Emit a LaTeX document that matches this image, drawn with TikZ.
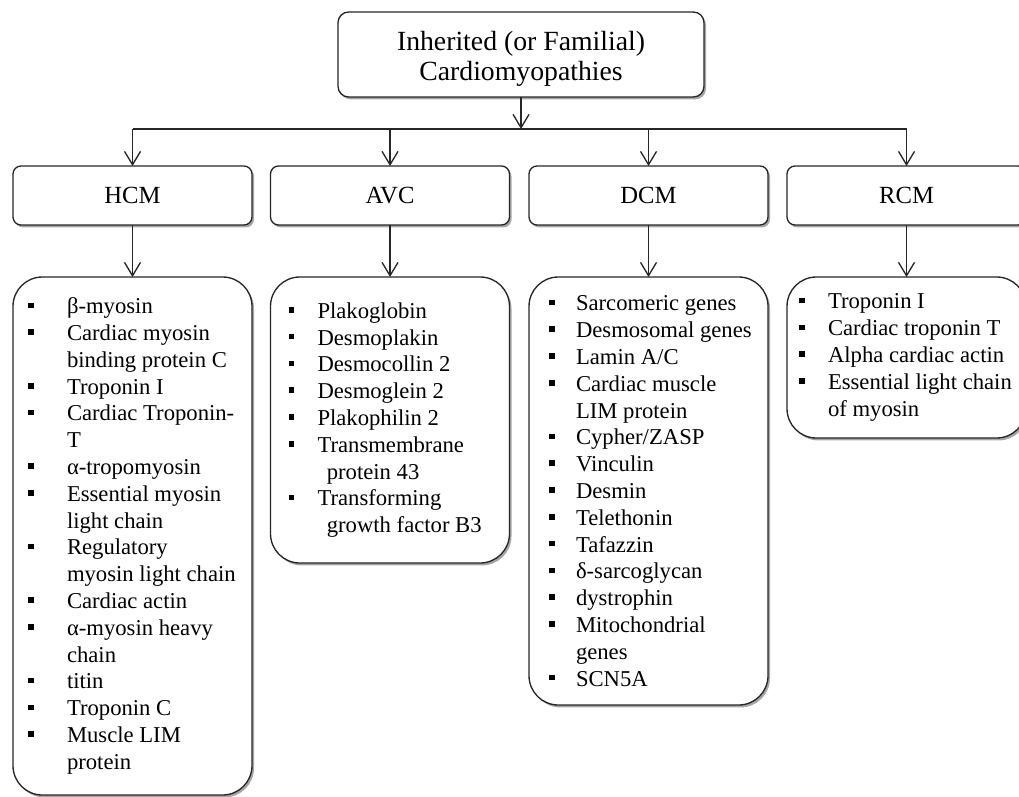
\documentclass[tikz,border=0pt]{standalone}
\usepackage{fontspec}
\setmainfont{Liberation Serif}
\usetikzlibrary{arrows.meta,shadows}
\newdimen\tind
\newdimen\bind
\newcommand\li[1]{\makebox[\tind][l]{\hspace*{\bind}\rule[4.2pt]{4.2pt}{4.2pt}}#1}
\newcommand\lc[1]{\hspace*{\tind}#1}
\begin{document}
\begin{tikzpicture}[x=0.75pt,y=-0.75pt,
  box/.style={draw=black!85, line width=1pt, fill=white, rounded corners=#1,
    inner sep=0pt, outer sep=0pt,
    drop shadow={shadow xshift=1.5pt,shadow yshift=-1.8pt,opacity=0.35,fill=black}},
  cat/.style={box=6pt, minimum width=179.25pt, minimum height=44.25pt,
    font=\fontsize{18.5}{22}\selectfont},
  listbox/.style={box=22pt, minimum width=179.25pt},
  listtxt/.style={anchor=west, inner sep=0pt, outer sep=0pt, align=left,
    font=\fontsize{17}{20.1}\selectfont},
  arr/.style={line width=1pt, draw=black!85, -{Straight Barb[length=10pt,width=12pt,line width=1pt]}},
  conn/.style={line width=1pt, draw=black!85}]
\useasboundingbox (0,0) rectangle (1019,796);
\clip (0,0) rectangle (1019,796);

% top node
\node[box=8pt, minimum width=274.5pt, minimum height=63.75pt, align=center,
  font=\fontsize{20.8}{22}\selectfont] (top) at (521,54.5)
  {\rule{0pt}{21pt}Inherited (or Familial)\\Cardiomyopathies};

% category boxes
\node[cat] (hcm) at (132.5,195.5) {HCM};
\node[cat] (avc) at (390,195.5) {AVC};
\node[cat] (dcm) at (648.5,195.5) {DCM};
\node[cat] (rcm) at (906.5,195.5) {RCM};

% list boxes
\node[listbox, minimum height=388.5pt] (hcml) at (132.5,536) {};
\node[listbox, minimum height=214.5pt] (avcl) at (390,420) {};
\node[listbox, minimum height=321pt] (dcml) at (648.5,491) {};
\node[listbox, minimum height=120.75pt] (rcml) at (906.5,357.5) {};

% list texts
\node[listtxt] (hcmt) at (hcml.west) {\global\bind=11.25pt\global\tind=40.5pt\relax
\li{β-myosin}\\
\li{Cardiac myosin}\\
\lc{binding protein C}\\
\li{Troponin I}\\
\li{Cardiac Troponin-}\\
\lc{T}\\
\li{α-tropomyosin}\\
\li{Essential myosin}\\
\lc{light chain}\\
\li{Regulatory}\\
\lc{myosin light chain}\\
\li{Cardiac actin}\\
\li{α-myosin heavy}\\
\lc{chain}\\
\li{titin}\\
\li{Troponin C}\\
\li{Muscle LIM}\\
\lc{protein}};

\node[listtxt] (avct) at (avcl.west) {\global\bind=13.5pt\global\tind=35.25pt\relax
\li{Plakoglobin}\\
\li{Desmoplakin}\\
\li{Desmocollin 2}\\
\li{Desmoglein 2}\\
\li{Plakophilin 2}\\
\li{Transmembrane}\\
\lc{\hspace*{7pt}protein 43}\\
\li{Transforming}\\
\lc{\hspace*{7pt}growth factor B3}};

\node[listtxt] (dcmt) at (dcml.west) {\global\bind=15pt\global\tind=35.25pt\relax
\li{Sarcomeric genes}\\
\li{Desmosomal genes}\\
\li{Lamin A/C}\\
\li{Cardiac muscle}\\
\lc{LIM protein}\\
\li{Cypher/ZASP}\\
\li{Vinculin}\\
\li{Desmin}\\
\li{Telethonin}\\
\li{Tafazzin}\\
\li{δ-sarcoglycan}\\
\li{dystrophin}\\
\li{Mitochondrial}\\
\lc{genes}\\
\li{SCN5A}};

\node[listtxt] (rcmt) at (rcml.west) {\global\bind=9pt\global\tind=30.75pt\relax
\li{Troponin I}\\
\li{Cardiac troponin T}\\
\li{Alpha cardiac actin}\\
\li{Essential light chain}\\
\lc{of myosin}};

% connectors
\coordinate (j) at (521,129);
\draw[arr] (top.south) -- (top.south |- j);
\draw[conn] (hcm.north |- j) -- (rcm.north |- j);
\foreach \n in {hcm,avc,dcm,rcm}{
  \draw[arr] (\n.north |- j) -- (\n.north);
  \draw[arr] (\n.south) -- (\n l.north);
}
\end{tikzpicture}
\end{document}
